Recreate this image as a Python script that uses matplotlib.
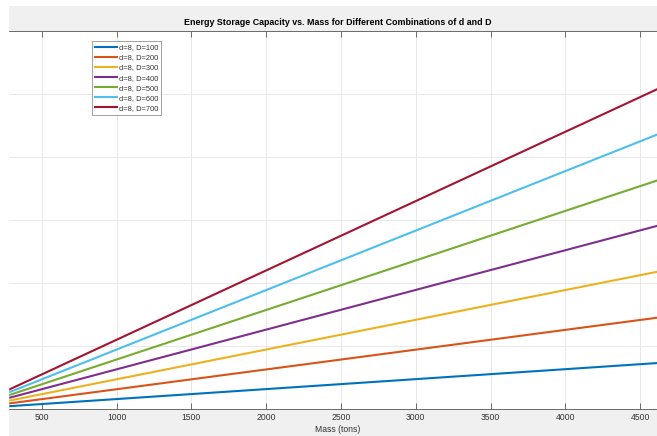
import matplotlib.pyplot as plt
import matplotlib.patches as mpatches
import numpy as np

plt.rcParams['font.family'] = ['Liberation Sans', 'DejaVu Sans']

# flywheel capacity vs mass, d fixed at 8
mass_tons = np.array([0, 5000])
d_value = 8
D_values = [100, 200, 300, 400, 500, 600, 700]
capacity_at_5000 = [0.79, 1.57, 2.36, 3.15, 3.93, 4.72, 5.50]

colors = ['#0072BD', '#D95319', '#EDB120', '#7E2F8E',
          '#77AC30', '#4DBEEE', '#A2142F']

W, H = 657, 436
fig = plt.figure(figsize=(W / 100, H / 100), dpi=100, facecolor='#f0f0f0')

# white border strips on the top and left
fig.patches.append(mpatches.Rectangle((0, 1 - 5 / H), 1, 5 / H,
                                      transform=fig.transFigure,
                                      color='white', zorder=0))
fig.patches.append(mpatches.Rectangle((0, 0), 8 / W, 1,
                                      transform=fig.transFigure,
                                      color='white', zorder=0))

left, right, top, bottom = 8, 668, 31, 409
ax = fig.add_axes([left / W, 1 - bottom / H, (right - left) / W, (bottom - top) / H])
ax.set_facecolor('white')

for D, cap, c in zip(D_values, capacity_at_5000, colors):
    ax.plot(mass_tons, [0, cap], color=c, lw=1.5,
            label=f'd={d_value}, D={D}')

ax.set_xlim(273, 4687)
ax.set_ylim(0, 6)
ax.set_xticks(np.arange(500, 5000, 500))
ax.set_yticks(np.arange(0, 7, 1))
ax.set_yticklabels([])
ax.grid(True, color='#e8e8e8', lw=0.7)
ax.set_axisbelow(True)

ax.tick_params(axis='x', direction='in', length=4, width=0.6, colors='#555555',
               labelsize=6.2, labelcolor='#333333', pad=3, top=True)
ax.tick_params(axis='y', length=0)
for s in ax.spines.values():
    s.set_color('#555555')
    s.set_linewidth(0.6)

ax.set_xlabel('Mass (tons)', fontsize=6.2, color='#333333', labelpad=2)
ax.set_title('Energy Storage Capacity vs. Mass for Different Combinations of d and D',
             fontsize=6.4, fontweight='bold', pad=4)

leg = ax.legend(loc='upper left', bbox_to_anchor=((92 - left) / (right - left), 1 - (41 - top) / (bottom - top)),
                fontsize=5.4, frameon=True, fancybox=False, handlelength=3.0,
                handletextpad=0.2, labelspacing=0.38, borderpad=0.4,
                borderaxespad=0)
leg.get_frame().set_edgecolor('#777777')
leg.get_frame().set_linewidth(0.6)
for t in leg.get_texts():
    t.set_color('#333333')

fig.savefig('out.png', dpi=100, facecolor=fig.get_facecolor())
